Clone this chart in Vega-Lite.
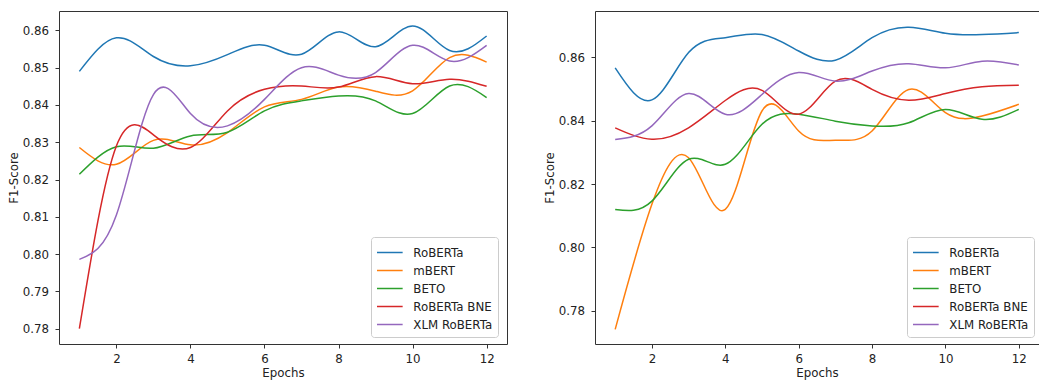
{
  "$schema": "https://vega.github.io/schema/vega-lite/v6.json",
  "autosize": {"type": "pad"},
  "padding": {"left": 7, "top": 10, "right": 0, "bottom": 0},
  "background": "white",
  "spacing": 88,
  "bounds": "flush",
  "config": {
    "font": "DejaVu Sans",
    "view": {"stroke": "#333", "strokeWidth": 1},
    "axis": {
      "grid": false,
      "domain": false,
      "tickColor": "#333",
      "tickSize": 4,
      "labelFont": "DejaVu Sans",
      "labelFontSize": 11.8,
      "labelColor": "#222",
      "titleFont": "DejaVu Sans",
      "titleFontSize": 11.8,
      "titleFontWeight": "normal",
      "titleColor": "#222"
    },
    "axisX": {"labelPadding": 5, "titlePadding": 3},
    "axisY": {"labelPadding": 6.5, "titlePadding": 3},
    "legend": {
      "orient": "none",
      "legendX": 312,
      "legendY": 226,
      "title": null,
      "strokeColor": "#cccccc",
      "fillColor": "white",
      "cornerRadius": 3,
      "padding": 5,
      "symbolType": "M-1,0H1.7",
      "symbolSize": 361,
      "symbolStrokeWidth": 1.5,
      "symbolFillColor": "transparent",
      "labelFont": "DejaVu Sans",
      "labelFontSize": 11.8,
      "labelColor": "#222",
      "rowPadding": 0,
      "labelOffset": 16.3
    }
  },
  "datasets": {
    "left": [
      {"epoch": 1, "model": "RoBERTa", "f1": 0.849},
      {"epoch": 2, "model": "RoBERTa", "f1": 0.858},
      {"epoch": 3, "model": "RoBERTa", "f1": 0.853},
      {"epoch": 4, "model": "RoBERTa", "f1": 0.8505},
      {"epoch": 5, "model": "RoBERTa", "f1": 0.8535},
      {"epoch": 6, "model": "RoBERTa", "f1": 0.856},
      {"epoch": 7, "model": "RoBERTa", "f1": 0.8536},
      {"epoch": 8, "model": "RoBERTa", "f1": 0.8596},
      {"epoch": 9, "model": "RoBERTa", "f1": 0.8556},
      {"epoch": 10, "model": "RoBERTa", "f1": 0.8612},
      {"epoch": 11, "model": "RoBERTa", "f1": 0.8546},
      {"epoch": 12, "model": "RoBERTa", "f1": 0.8585},
      {"epoch": 1, "model": "mBERT", "f1": 0.8286},
      {"epoch": 2, "model": "mBERT", "f1": 0.8241},
      {"epoch": 3, "model": "mBERT", "f1": 0.8305},
      {"epoch": 4, "model": "mBERT", "f1": 0.8293},
      {"epoch": 5, "model": "mBERT", "f1": 0.8326},
      {"epoch": 6, "model": "mBERT", "f1": 0.8395},
      {"epoch": 7, "model": "mBERT", "f1": 0.8415},
      {"epoch": 8, "model": "mBERT", "f1": 0.8448},
      {"epoch": 9, "model": "mBERT", "f1": 0.8437},
      {"epoch": 10, "model": "mBERT", "f1": 0.8438},
      {"epoch": 11, "model": "mBERT", "f1": 0.8527},
      {"epoch": 12, "model": "mBERT", "f1": 0.8515},
      {"epoch": 1, "model": "BETO", "f1": 0.8214},
      {"epoch": 2, "model": "BETO", "f1": 0.8288},
      {"epoch": 3, "model": "BETO", "f1": 0.8284},
      {"epoch": 4, "model": "BETO", "f1": 0.8317},
      {"epoch": 5, "model": "BETO", "f1": 0.8327},
      {"epoch": 6, "model": "BETO", "f1": 0.8384},
      {"epoch": 7, "model": "BETO", "f1": 0.8411},
      {"epoch": 8, "model": "BETO", "f1": 0.8424},
      {"epoch": 9, "model": "BETO", "f1": 0.8411},
      {"epoch": 10, "model": "BETO", "f1": 0.8377},
      {"epoch": 11, "model": "BETO", "f1": 0.8451},
      {"epoch": 12, "model": "BETO", "f1": 0.842},
      {"epoch": 1, "model": "RoBERTa BNE", "f1": 0.78},
      {"epoch": 2, "model": "RoBERTa BNE", "f1": 0.829},
      {"epoch": 3, "model": "RoBERTa BNE", "f1": 0.832},
      {"epoch": 4, "model": "RoBERTa BNE", "f1": 0.8286},
      {"epoch": 5, "model": "RoBERTa BNE", "f1": 0.8384},
      {"epoch": 6, "model": "RoBERTa BNE", "f1": 0.8442},
      {"epoch": 7, "model": "RoBERTa BNE", "f1": 0.8451},
      {"epoch": 8, "model": "RoBERTa BNE", "f1": 0.8448},
      {"epoch": 9, "model": "RoBERTa BNE", "f1": 0.8476},
      {"epoch": 10, "model": "RoBERTa BNE", "f1": 0.8457},
      {"epoch": 11, "model": "RoBERTa BNE", "f1": 0.8469},
      {"epoch": 12, "model": "RoBERTa BNE", "f1": 0.845},
      {"epoch": 1, "model": "XLM RoBERTa", "f1": 0.7986},
      {"epoch": 2, "model": "XLM RoBERTa", "f1": 0.8105},
      {"epoch": 3, "model": "XLM RoBERTa", "f1": 0.8428},
      {"epoch": 4, "model": "XLM RoBERTa", "f1": 0.8377},
      {"epoch": 5, "model": "XLM RoBERTa", "f1": 0.8344},
      {"epoch": 6, "model": "XLM RoBERTa", "f1": 0.8415},
      {"epoch": 7, "model": "XLM RoBERTa", "f1": 0.85},
      {"epoch": 8, "model": "XLM RoBERTa", "f1": 0.848},
      {"epoch": 9, "model": "XLM RoBERTa", "f1": 0.8487},
      {"epoch": 10, "model": "XLM RoBERTa", "f1": 0.856},
      {"epoch": 11, "model": "XLM RoBERTa", "f1": 0.8518},
      {"epoch": 12, "model": "XLM RoBERTa", "f1": 0.856}
    ],
    "right": [
      {"epoch": 1, "model": "RoBERTa", "f1": 0.8566},
      {"epoch": 2, "model": "RoBERTa", "f1": 0.8465},
      {"epoch": 3, "model": "RoBERTa", "f1": 0.8614},
      {"epoch": 4, "model": "RoBERTa", "f1": 0.8661},
      {"epoch": 5, "model": "RoBERTa", "f1": 0.8671},
      {"epoch": 6, "model": "RoBERTa", "f1": 0.8619},
      {"epoch": 7, "model": "RoBERTa", "f1": 0.859},
      {"epoch": 8, "model": "RoBERTa", "f1": 0.8661},
      {"epoch": 9, "model": "RoBERTa", "f1": 0.8694},
      {"epoch": 10, "model": "RoBERTa", "f1": 0.8675},
      {"epoch": 11, "model": "RoBERTa", "f1": 0.8671},
      {"epoch": 12, "model": "RoBERTa", "f1": 0.8677},
      {"epoch": 1, "model": "mBERT", "f1": 0.7742},
      {"epoch": 2, "model": "mBERT", "f1": 0.8136},
      {"epoch": 3, "model": "mBERT", "f1": 0.8283},
      {"epoch": 4, "model": "mBERT", "f1": 0.812},
      {"epoch": 5, "model": "mBERT", "f1": 0.843},
      {"epoch": 6, "model": "mBERT", "f1": 0.8367},
      {"epoch": 7, "model": "mBERT", "f1": 0.8338},
      {"epoch": 8, "model": "mBERT", "f1": 0.8367},
      {"epoch": 9, "model": "mBERT", "f1": 0.8498},
      {"epoch": 10, "model": "mBERT", "f1": 0.8425},
      {"epoch": 11, "model": "mBERT", "f1": 0.8414},
      {"epoch": 12, "model": "mBERT", "f1": 0.8451},
      {"epoch": 1, "model": "BETO", "f1": 0.812},
      {"epoch": 2, "model": "BETO", "f1": 0.8146},
      {"epoch": 3, "model": "BETO", "f1": 0.8278},
      {"epoch": 4, "model": "BETO", "f1": 0.8262},
      {"epoch": 5, "model": "BETO", "f1": 0.8388},
      {"epoch": 6, "model": "BETO", "f1": 0.842},
      {"epoch": 7, "model": "BETO", "f1": 0.8398},
      {"epoch": 8, "model": "BETO", "f1": 0.8383},
      {"epoch": 9, "model": "BETO", "f1": 0.8393},
      {"epoch": 10, "model": "BETO", "f1": 0.8435},
      {"epoch": 11, "model": "BETO", "f1": 0.8404},
      {"epoch": 12, "model": "BETO", "f1": 0.8435},
      {"epoch": 1, "model": "RoBERTa BNE", "f1": 0.8377},
      {"epoch": 2, "model": "RoBERTa BNE", "f1": 0.8341},
      {"epoch": 3, "model": "RoBERTa BNE", "f1": 0.8377},
      {"epoch": 4, "model": "RoBERTa BNE", "f1": 0.8463},
      {"epoch": 5, "model": "RoBERTa BNE", "f1": 0.8495},
      {"epoch": 6, "model": "RoBERTa BNE", "f1": 0.842},
      {"epoch": 7, "model": "RoBERTa BNE", "f1": 0.8524},
      {"epoch": 8, "model": "RoBERTa BNE", "f1": 0.8498},
      {"epoch": 9, "model": "RoBERTa BNE", "f1": 0.8464},
      {"epoch": 10, "model": "RoBERTa BNE", "f1": 0.8485},
      {"epoch": 11, "model": "RoBERTa BNE", "f1": 0.8506},
      {"epoch": 12, "model": "RoBERTa BNE", "f1": 0.8511},
      {"epoch": 1, "model": "XLM RoBERTa", "f1": 0.834},
      {"epoch": 2, "model": "XLM RoBERTa", "f1": 0.8383},
      {"epoch": 3, "model": "XLM RoBERTa", "f1": 0.8485},
      {"epoch": 4, "model": "XLM RoBERTa", "f1": 0.842},
      {"epoch": 5, "model": "XLM RoBERTa", "f1": 0.8482},
      {"epoch": 6, "model": "XLM RoBERTa", "f1": 0.8551},
      {"epoch": 7, "model": "XLM RoBERTa", "f1": 0.8524},
      {"epoch": 8, "model": "XLM RoBERTa", "f1": 0.8556},
      {"epoch": 9, "model": "XLM RoBERTa", "f1": 0.8579},
      {"epoch": 10, "model": "XLM RoBERTa", "f1": 0.8566},
      {"epoch": 11, "model": "XLM RoBERTa", "f1": 0.8587},
      {"epoch": 12, "model": "XLM RoBERTa", "f1": 0.8575}
    ]
  },
  "hconcat": [
    {
      "data": {"name": "left"},
      "width": 448,
      "height": 333,
      "mark": {"type": "line", "interpolate": "natural", "strokeWidth": 1.5, "clip": true},
      "encoding": {
        "x": {"field": "epoch", "type": "quantitative", "title": "Epochs",
              "scale": {"domain": [0.45, 12.55], "nice": false, "zero": false},
              "axis": {"values": [2, 4, 6, 8, 10, 12]}},
        "y": {"field": "f1", "type": "quantitative", "title": "F1-Score",
              "scale": {"domain": [0.7759, 0.8652], "nice": false, "zero": false},
              "axis": {"values": [0.78, 0.79, 0.8, 0.81, 0.82, 0.83, 0.84, 0.85, 0.86], "format": ".2f"}},
        "color": {"field": "model", "type": "nominal",
                  "scale": {"domain": ["RoBERTa", "mBERT", "BETO", "RoBERTa BNE", "XLM RoBERTa"],
                            "range": ["#1f77b4", "#ff7f0e", "#2ca02c", "#d62728", "#9467bd"]},
                  "legend": {"orient": "none", "legendX": 312, "legendY": 226}}
      }
    },
    {
      "data": {"name": "right"},
      "width": 444,
      "height": 333,
      "mark": {"type": "line", "interpolate": "natural", "strokeWidth": 1.5, "clip": true},
      "encoding": {
        "x": {"field": "epoch", "type": "quantitative", "title": "Epochs",
              "scale": {"domain": [0.45, 12.55], "nice": false, "zero": false},
              "axis": {"values": [2, 4, 6, 8, 10, 12]}},
        "y": {"field": "f1", "type": "quantitative", "title": "F1-Score",
              "scale": {"domain": [0.7696, 0.8745], "nice": false, "zero": false},
              "axis": {"values": [0.78, 0.8, 0.82, 0.84, 0.86], "format": ".2f"}},
        "color": {"field": "model", "type": "nominal",
                  "scale": {"domain": ["RoBERTa", "mBERT", "BETO", "RoBERTa BNE", "XLM RoBERTa"],
                            "range": ["#1f77b4", "#ff7f0e", "#2ca02c", "#d62728", "#9467bd"]},
                  "legend": {"orient": "none", "legendX": 312, "legendY": 226}}
      }
    }
  ],
  "resolve": {"scale": {"x": "independent", "y": "independent", "color": "independent"}, "legend": {"color": "independent"}}
}
